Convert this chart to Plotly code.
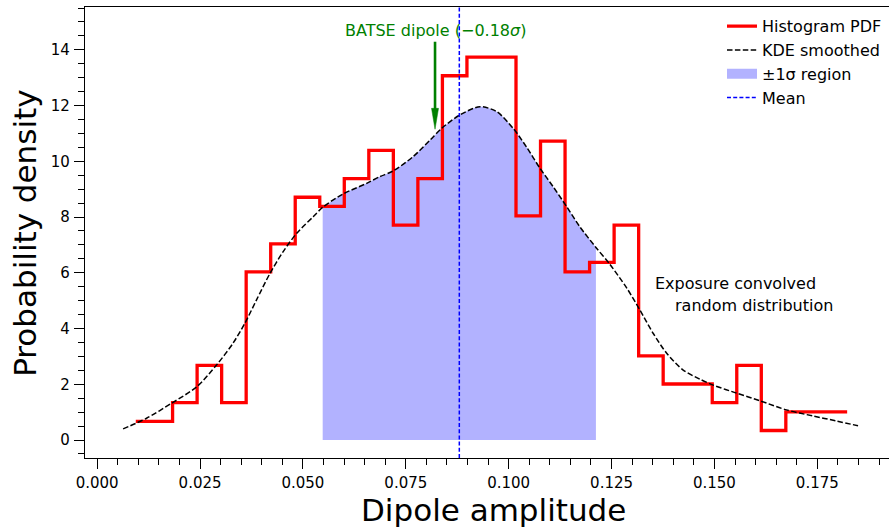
import numpy as np
import plotly.graph_objects as go

# ---------------- data ----------------
BIN_FIRST_CENTER = 0.00938
BIN_WIDTH = 0.005961
HIST_DENSITY = [0.67, 0.67, 1.34, 2.68, 1.34, 6.03, 7.04, 8.71, 8.38, 9.38,
                10.39, 7.71, 9.38, 13.07, 13.74, 13.74, 8.04, 10.72, 6.03, 6.37,
                7.71, 3.02, 2.01, 2.01, 1.34, 2.68, 0.34, 1.01, 1.01, 1.01]

KDE_X = [0.0063, 0.0120, 0.0181, 0.0242, 0.0290, 0.0330, 0.0359, 0.0387, 0.0420,
         0.0452, 0.0485, 0.0525, 0.0548, 0.0598, 0.0655, 0.0687, 0.0719, 0.0768,
         0.0809, 0.0837, 0.0881, 0.0930, 0.0971, 0.1011, 0.1043, 0.1076, 0.1108,
         0.1141, 0.1173, 0.1212, 0.1246, 0.1287, 0.1319, 0.1351, 0.1384, 0.1424,
         0.1465, 0.1497, 0.1554, 0.1610, 0.1675, 0.1740, 0.1797, 0.1849]
KDE_Y = [0.40, 0.78, 1.32, 1.91, 2.69, 3.47, 4.19, 5.02, 5.98,
         6.76, 7.42, 8.01, 8.35, 8.83, 9.21, 9.45, 9.65, 10.17,
         10.76, 11.18, 11.66, 11.96, 11.78, 11.18, 10.52, 9.75, 9.09,
         8.37, 7.65, 6.91, 6.30, 5.45, 4.66, 3.83, 3.11, 2.51,
         2.18, 1.97, 1.68, 1.41, 1.08, 0.86, 0.68, 0.51]

MEAN = 0.0880
SIGMA = 0.0332
BATSE_X = 0.0821
BATSE_TAIL_Y = 14.29
BATSE_TIP_Y = 11.15
BATSE_LABEL = "BATSE dipole (\u22120.18<i>\u03c3</i>)"
EXPO_LINES = ["Exposure convolved", "random distribution"]

X_RANGE = [-0.00296, 0.19242]
Y_RANGE = [-0.646, 15.536]

FONT = "DejaVu Sans"
RED = "#ff0000"
FILL = "rgba(0,0,255,0.30)"
GREEN = "#008000"

# ---------------- derived ----------------
centers = BIN_FIRST_CENTER + BIN_WIDTH * np.arange(len(HIST_DENSITY))
kx = np.array(KDE_X)
ky = np.array(KDE_Y)
lo, hi = MEAN - SIGMA, MEAN + SIGMA
mask = (kx >= lo - 1e-4) & (kx <= hi + 1e-4)

fig = go.Figure()

# ±1σ fill (drawn first, under everything)
fig.add_trace(go.Scatter(x=kx[mask], y=ky[mask], mode="lines",
                         line=dict(width=0, shape="spline", color=FILL),
                         fill="tozeroy", fillcolor=FILL,
                         showlegend=False, hoverinfo="skip"))

# Histogram PDF (step, mid)
fig.add_trace(go.Scatter(x=centers, y=HIST_DENSITY, mode="lines",
                         line=dict(color=RED, width=3.3, shape="hvh"),
                         name="Histogram PDF"))

# KDE
fig.add_trace(go.Scatter(x=kx, y=ky, mode="lines",
                         line=dict(color="black", width=1.5, dash="5.5px,2.4px",
                                   shape="spline", smoothing=0.8),
                         name="KDE smoothed"))

# legend proxy for the fill
fig.add_trace(go.Scatter(x=[None], y=[None], mode="lines",
                         line=dict(color=FILL, width=13),
                         name="\u00b11\u03c3 region"))

# mean line
fig.add_trace(go.Scatter(x=[MEAN, MEAN], y=Y_RANGE, mode="lines",
                         line=dict(color="#0000ff", width=1.5, dash="4px,2.2px"),
                         name="Mean"))

# arrow (shaft + narrow filled head)
head_len = 0.75
head_half = 0.00085
shapes = [
    dict(type="line", xref="x", yref="y", x0=BATSE_X, x1=BATSE_X,
         y0=BATSE_TAIL_Y, y1=BATSE_TIP_Y + head_len * 0.9,
         line=dict(color=GREEN, width=2.6)),
    dict(type="path", xref="x", yref="y",
         path=f"M {BATSE_X - head_half},{BATSE_TIP_Y + head_len} "
              f"L {BATSE_X + head_half},{BATSE_TIP_Y + head_len} "
              f"L {BATSE_X},{BATSE_TIP_Y} Z",
         fillcolor=GREEN, line=dict(color=GREEN, width=0.5)),
]

annotations = [
    dict(x=BATSE_X, y=14.71, xref="x", yref="y", text=BATSE_LABEL,
         showarrow=False, xanchor="center", yanchor="middle",
         font=dict(family=FONT, size=16, color=GREEN)),
    dict(x=0.1350, y=5.62, xref="x", yref="y", text=EXPO_LINES[0],
         showarrow=False, xanchor="left", yanchor="middle",
         font=dict(family=FONT, size=16, color="black")),
    dict(x=0.1399, y=4.82, xref="x", yref="y", text=EXPO_LINES[1],
         showarrow=False, xanchor="left", yanchor="middle",
         font=dict(family=FONT, size=16, color="black")),
    # axis titles
    dict(x=0.508, y=-0.116, xref="paper", yref="paper", text="Dipole amplitude",
         showarrow=False, xanchor="center", yanchor="middle",
         font=dict(family=FONT, size=31, color="black")),
    dict(x=(25 - 85) / 804.0, y=0.497, xref="paper", yref="paper",
         text="Probability density",
         showarrow=False, textangle=-90, xanchor="center", yanchor="middle",
         font=dict(family=FONT, size=31, color="black")),
]

axis_common = dict(showline=True, linecolor="black", linewidth=1.3,
                   ticks="outside", ticklen=10, tickwidth=1.3, tickcolor="black",
                   showgrid=False, zeroline=False,
                   tickfont=dict(family=FONT, size=15, color="black"),
                   automargin=False)

fig.update_layout(
    width=889, height=530,
    margin=dict(l=85, r=0, t=7, b=72),
    paper_bgcolor="white", plot_bgcolor="white",
    font=dict(family=FONT, color="black"),
    xaxis=dict(range=X_RANGE, dtick=0.025, tick0=0, tickformat=".3f",
               mirror=True, ticklabelstandoff=1,
               minor=dict(dtick=0.005, tick0=0, ticklen=5.5, tickwidth=1.3,
                          ticks="outside", tickcolor="black"),
               **axis_common),
    yaxis=dict(range=Y_RANGE, dtick=2, tick0=0, mirror=False,
               ticklabelstandoff=1,
               minor=dict(dtick=0.5, tick0=0, ticklen=5.5, tickwidth=1.3,
                          ticks="outside", tickcolor="black"),
               **axis_common),
    legend=dict(x=(722 - 85) / 804.0, y=0.995, xanchor="left", yanchor="top",
                bgcolor="rgba(0,0,0,0)", borderwidth=0,
                font=dict(family=FONT, size=16, color="black")),
    shapes=shapes,
    annotations=annotations,
    showlegend=True,
)

fig.write_html("out.html")
